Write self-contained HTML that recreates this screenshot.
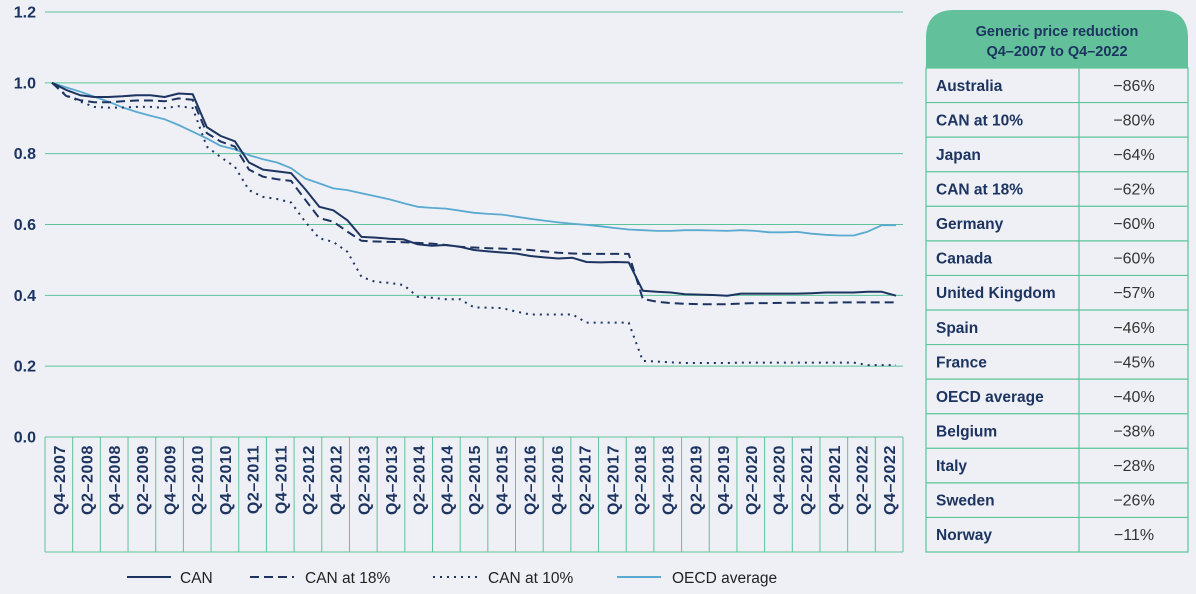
<!DOCTYPE html>
<html><head><meta charset="utf-8">
<style>
html,body{margin:0;padding:0;background:#eef0f5;}
body{width:1196px;height:594px;overflow:hidden;font-family:"Liberation Sans",sans-serif;}
svg{position:absolute;left:0;top:0;}
</style></head>
<body>
<svg id="chart" width="1196" height="594" viewBox="0 0 1196 594" xmlns="http://www.w3.org/2000/svg"></svg>
<script>
const quarterLabels=["Q4–2007","Q2–2008","Q4–2008","Q2–2009","Q4–2009","Q2–2010","Q4–2010","Q2–2011","Q4–2011","Q2–2012","Q4–2012","Q2–2013","Q4–2013","Q2–2014","Q4–2014","Q2–2015","Q4–2015","Q2–2016","Q4–2016","Q2–2017","Q4–2017","Q2–2018","Q4–2018","Q2–2019","Q4–2019","Q2–2020","Q4–2020","Q2–2021","Q4–2021","Q2–2022","Q4–2022"];
const yTicks=[0,0.2,0.4,0.6,0.8,1.0,1.2];
const canValues=[1.0,0.98,0.965,0.96,0.96,0.962,0.965,0.965,0.96,0.97,0.968,0.875,0.85,0.835,0.775,0.755,0.75,0.745,0.70,0.65,0.64,0.612,0.565,0.563,0.56,0.558,0.544,0.54,0.542,0.537,0.528,0.524,0.521,0.518,0.511,0.507,0.504,0.506,0.494,0.493,0.494,0.493,0.413,0.41,0.408,0.403,0.402,0.401,0.399,0.405,0.405,0.405,0.405,0.405,0.406,0.408,0.408,0.408,0.41,0.41,0.399];
const can18Values=[1.0,0.963,0.951,0.945,0.945,0.948,0.95,0.95,0.948,0.956,0.952,0.858,0.834,0.82,0.755,0.735,0.728,0.723,0.67,0.618,0.608,0.58,0.554,0.552,0.551,0.55,0.548,0.546,0.542,0.537,0.535,0.533,0.532,0.53,0.528,0.524,0.52,0.518,0.517,0.517,0.517,0.517,0.39,0.382,0.378,0.376,0.375,0.375,0.375,0.377,0.378,0.378,0.379,0.379,0.379,0.379,0.38,0.38,0.38,0.38,0.38];
const can10Values=[1.0,0.965,0.947,0.932,0.93,0.93,0.932,0.932,0.929,0.934,0.929,0.82,0.79,0.763,0.697,0.678,0.672,0.662,0.608,0.561,0.551,0.523,0.452,0.438,0.435,0.429,0.396,0.393,0.389,0.389,0.366,0.365,0.364,0.354,0.346,0.346,0.346,0.346,0.323,0.323,0.323,0.323,0.215,0.213,0.211,0.209,0.209,0.209,0.209,0.21,0.21,0.21,0.21,0.21,0.21,0.21,0.21,0.21,0.203,0.203,0.203];
const oecdValues=[1.0,0.987,0.975,0.961,0.947,0.931,0.918,0.907,0.897,0.881,0.862,0.843,0.822,0.812,0.796,0.784,0.775,0.759,0.73,0.716,0.702,0.697,0.688,0.68,0.671,0.66,0.65,0.647,0.645,0.639,0.633,0.63,0.628,0.622,0.616,0.611,0.606,0.602,0.599,0.595,0.59,0.586,0.584,0.582,0.582,0.584,0.584,0.583,0.582,0.584,0.582,0.578,0.578,0.579,0.574,0.571,0.569,0.569,0.58,0.598,0.598];
const tableCountries=["Australia","CAN at 10%","Japan","CAN at 18%","Germany","Canada","United Kingdom","Spain","France","OECD average","Belgium","Italy","Sweden","Norway"];
const tableValues=["−86%","−80%","−64%","−62%","−60%","−60%","−57%","−46%","−45%","−40%","−38%","−28%","−26%","−11%"];

const NS="http://www.w3.org/2000/svg";
const svg=document.getElementById('chart');
const NAVY="#1d3461",GREEN="#5cc49a",BLUE="#5aa9d0";
const X0=45,X1=903,Y0=437,Y1=12;
function yScale(v){return Y0-(v/1.2)*(Y0-Y1);}
function xScale(i){const step=(X1-X0)/61;return X0+step*(i+0.5);}
function mk(tag,attrs,parent){const e=document.createElementNS(NS,tag);for(const k in attrs)e.setAttribute(k,attrs[k]);(parent||svg).appendChild(e);return e;}

yTicks.forEach(t=>{
  const y=yScale(t);
  const g=mk('line',{x1:X0,x2:X1,y1:y,y2:y,stroke:GREEN,'stroke-width':1});
  
  
  const tx=mk('text',{x:36,y:y+5.5,'text-anchor':'end','font-size':16,'font-weight':'bold',fill:NAVY});
  tx.textContent=t.toFixed(1);
  
  
});
const bot=mk('line',{x1:X0,x2:X1,y1:552,y2:552,stroke:GREEN,'stroke-width':1});


const colW=(X1-X0)/quarterLabels.length;
for(let k=0;k<=quarterLabels.length;k++){
  const x=X0+k*colW;
  const l=mk('line',{x1:x,x2:x,y1:437,y2:552,stroke:GREEN,'stroke-width':1});
  
  
}
quarterLabels.forEach((lab,k)=>{
  const cx=X0+(k+0.5)*colW+6;
  const t=mk('text',{x:cx,y:445,'text-anchor':'end','font-size':16,'font-weight':'bold','letter-spacing':0.6,fill:NAVY,transform:`rotate(-90 ${cx} 445)`});
  t.textContent=lab;
  
  
});
function series(vals,name,color,dash,w){
  const d=vals.map((v,i)=>(i?'L':'M')+xScale(i).toFixed(1)+' '+yScale(v).toFixed(1)).join(' ');
  const p=mk('path',{d:d,fill:'none',stroke:color,'stroke-width':w,'stroke-linejoin':'round'});
  if(dash)p.setAttribute('stroke-dasharray',dash);
  
  
}
series(oecdValues,'oecd-average-line',BLUE,null,1.8);
series(can10Values,'can-at-10-line',NAVY,'2 5',2);
series(can18Values,'can-at-18-line',NAVY,'9 5',2);
series(canValues,'can-line',NAVY,null,2);

const leg=[["CAN",127,180,null,NAVY],["CAN at 18%",250,305,'9 5',NAVY],["CAN at 10%",433,488,'2 5',NAVY],["OECD average",617,672,null,BLUE]];
leg.forEach(([lab,lx,tx,dash,col])=>{
  const l=mk('line',{x1:lx,x2:lx+44,y1:577,y2:577,stroke:col,'stroke-width':2});
  if(dash)l.setAttribute('stroke-dasharray',dash);
  
  
  const t=mk('text',{x:tx,y:583,'font-size':15.5,fill:'#222'});
  t.textContent=lab;
  
  
});

const TL=926,TR=1188,TD=1079,HT=10,HB=68,RH=(552-68)/tableCountries.length;
const hdr=mk('path',{d:`M${TL} ${HB} L${TL} ${HT+28} Q${TL} ${HT} ${TL+28} ${HT} L${TR-28} ${HT} Q${TR} ${HT} ${TR} ${HT+28} L${TR} ${HB} Z`,fill:'#62c19a'});


["Generic price reduction","Q4–2007 to Q4–2022"].forEach((s,i)=>{
  const t=mk('text',{x:(TL+TR)/2,y:36+i*20,'text-anchor':'middle','font-size':14.5,'font-weight':'bold',fill:NAVY});
  t.textContent=s;
  
  
});
const box=mk('rect',{x:TL,y:HB,width:TR-TL,height:552-HB,fill:'none',stroke:GREEN,'stroke-width':1.2});


const dv=mk('line',{x1:TD,x2:TD,y1:HB,y2:552,stroke:GREEN,'stroke-width':1.2});


tableCountries.forEach((c,i)=>{
  const y=HB+i*RH;
  if(i>0){const l=mk('line',{x1:TL,x2:TR,y1:y,y2:y,stroke:GREEN,'stroke-width':1.2});
    
    }
  const t=mk('text',{x:936,y:y+RH/2+5.5,'font-size':15.5,'font-weight':'bold',fill:NAVY});
  t.textContent=c;
  
  
  const v=mk('text',{x:1134,y:y+RH/2+5.5,'text-anchor':'middle','font-size':16,fill:'#333'});
  v.textContent=tableValues[i];
  
  
});
</script>
</body></html>
